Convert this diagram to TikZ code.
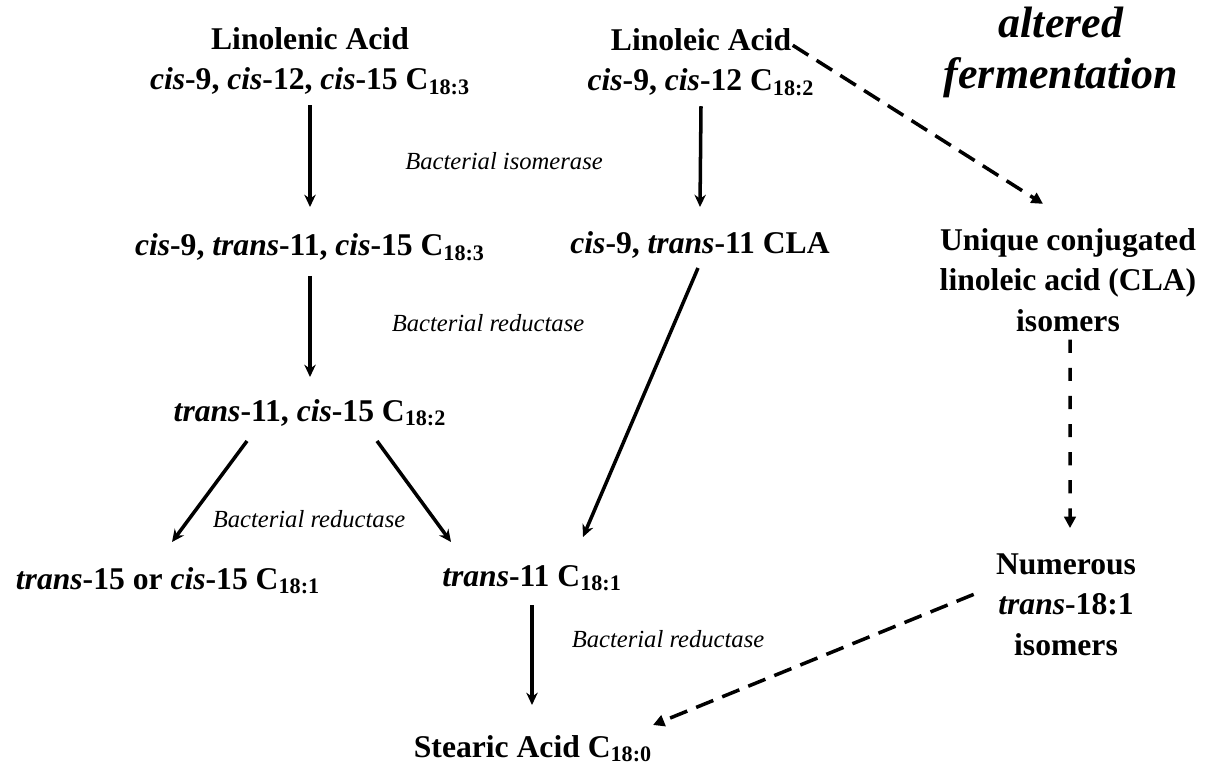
\documentclass[tikz,border=0pt]{standalone}
\usepackage{fontspec}
\setmainfont{Liberation Serif}
\usepackage{tikz}
\usetikzlibrary{arrows.meta, positioning, calc}

\begin{document}
\begin{tikzpicture}[
      acid/.style={anchor=base, align=center, inner sep=0pt, font=\bfseries\fontsize{18}{23}\selectfont},
      enzyme/.style={anchor=base, inner sep=0pt, font=\itshape\fontsize{14}{16}\selectfont},
      conv/.style={-{Stealth[length=7pt, width=6.5pt]}, line width=2pt},
      altpath/.style={-{Triangle[length=6.5pt, width=6.5pt]}, line width=2pt, dash pattern=on 10.5pt off 5.5pt}
    ]
      \useasboundingbox (0,0) rectangle (24.14,-15.48);

      \node[acid] (linolenic) at (6.2,-1.8) {Linolenic Acid\\\textit{cis}-9, \textit{cis}-12, \textit{cis}-15 C\textsubscript{18:3}};
      \node[acid] (linoleic) at (14.02,-1.82) {Linoleic Acid\\\textit{cis}-9, \textit{cis}-12 C\textsubscript{18:2}};
      \node[acid, font=\bfseries\itshape\fontsize{25}{29.5}\selectfont] (altered) at (21.22,-1.78) {altered\\fermentation};

      \node[enzyme] (isomerase) at (10.08,-3.4) {Bacterial isomerase};

      \node[acid] (c9t11c15) at (6.2,-5.12) {\textit{cis}-9, \textit{trans}-11, \textit{cis}-15 C\textsubscript{18:3}};
      \node[acid] (cla) at (14.0,-5.08) {\textit{cis}-9, \textit{trans}-11 CLA};
      \node[acid] (unique) at (21.36,-6.62) {Unique conjugated\\linoleic acid (CLA)\\isomers};

      \node[enzyme] (reductaseA) at (9.76,-6.62) {Bacterial reductase};

      \node[acid] (t11c15) at (6.2,-8.42) {\textit{trans}-11, \textit{cis}-15 C\textsubscript{18:2}};

      \node[enzyme] (reductaseB) at (6.18,-10.54) {Bacterial reductase};

      \node[acid] (trans15) at (3.36,-11.78) {\textit{trans}-15 or \textit{cis}-15 C\textsubscript{18:1}};
      \node[acid] (t11) at (10.64,-11.72) {\textit{trans}-11 C\textsubscript{18:1}};
      \node[acid] (numerous) at (21.32,-13.1) {Numerous\\\textit{trans}-18:1\\isomers};

      \node[enzyme] (reductaseC) at (13.36,-12.94) {Bacterial reductase};

      \node[acid] (stearic) at (10.66,-15.14) {Stearic Acid C\textsubscript{18:0}};

      \draw[conv] ([yshift=-0.2cm]linolenic.south) -- ([yshift=0.98cm]c9t11c15.base);
      \draw[conv] ([yshift=-0.2cm]linoleic.south) -- ([yshift=0.94cm]cla.base);
      \draw[conv] ([yshift=-0.4cm]c9t11c15.base) -- ([yshift=0.88cm]t11c15.base);
      \draw[conv] ([xshift=-1.26cm, yshift=-0.4cm]t11c15.base) -- ([xshift=0.08cm, yshift=0.94cm]trans15.base);
      \draw[conv] ([xshift=1.34cm, yshift=-0.4cm]t11c15.base) -- ([xshift=-1.62cm, yshift=0.88cm]t11.base);
      \draw[conv] ([xshift=-0.04cm, yshift=-0.28cm]cla.base) -- ([xshift=1.02cm, yshift=0.98cm]t11.base);
      \draw[conv] ([yshift=-0.38cm]t11.base) -- ([yshift=1.04cm]t11.base |- stearic.base);

      \draw[altpath] ([xshift=-0.44cm, yshift=-0.34cm]linoleic.north east) -- ([xshift=-0.5cm, yshift=0.48cm]unique.north);
      \draw[altpath, dash pattern=on 7.5pt off 8.5pt] ([xshift=0.04cm, yshift=-0.16cm]unique.south) -- ([xshift=0.08cm, yshift=0.5cm]numerous.north);
      \draw[altpath] ([xshift=-0.44cm, yshift=0.2cm]numerous.west) -- ([xshift=2.4cm, yshift=0.64cm]stearic.base);
    \end{tikzpicture}
\end{document}
